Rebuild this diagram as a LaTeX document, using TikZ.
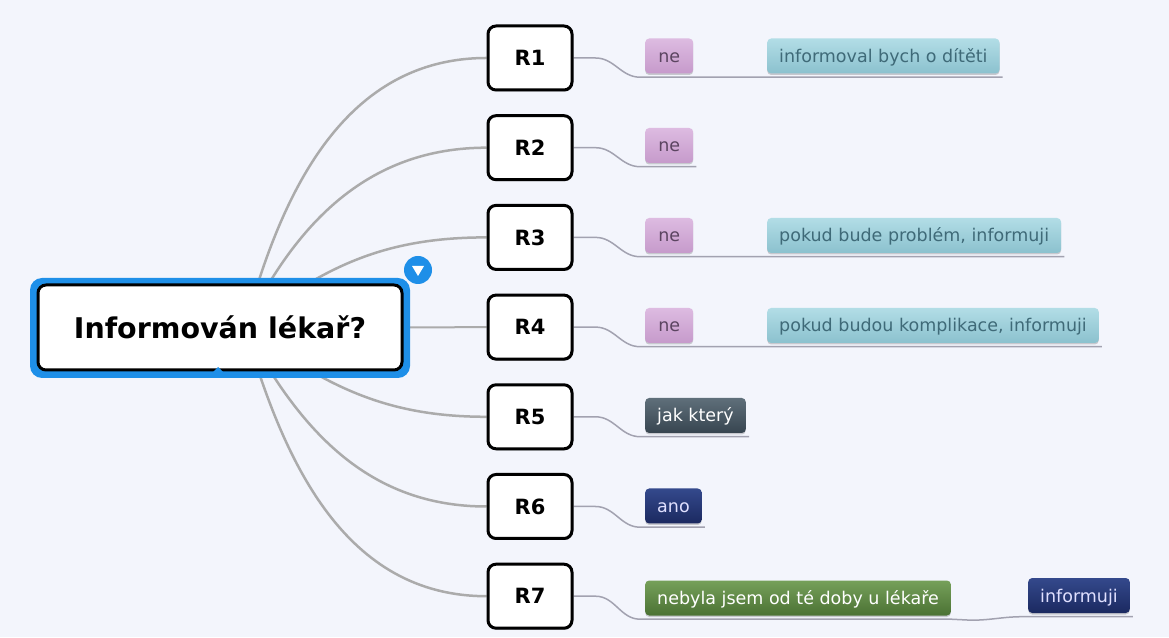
\documentclass[tikz,border=0pt]{standalone}
\usepackage{fontspec}
\setmainfont{DejaVu Sans}
\usetikzlibrary{shadows}
\definecolor{bgcol}{HTML}{F3F5FC}
\definecolor{edgecol}{HTML}{ABABAB}
\definecolor{linecol}{HTML}{A2A2B0}
\definecolor{rootblue}{HTML}{1E8FE8}
\definecolor{pinkA}{HTML}{DDBBE1}
\definecolor{pinkB}{HTML}{C69ACB}
\definecolor{pinkT}{HTML}{5B4460}
\definecolor{tealA}{HTML}{B2DDE6}
\definecolor{tealB}{HTML}{8BC1CE}
\definecolor{tealT}{HTML}{3F6A78}
\definecolor{slateA}{HTML}{5F6F7A}
\definecolor{slateB}{HTML}{374550}
\definecolor{navyA}{HTML}{34498C}
\definecolor{navyB}{HTML}{1B2960}
\definecolor{greenA}{HTML}{76A05A}
\definecolor{greenB}{HTML}{4B7234}
\pgfdeclarelayer{back}
\pgfdeclarelayer{links}
\pgfsetlayers{back,links,main}
\tikzset{
  rbox/.style={draw=black, line width=3pt, fill=white, rounded corners=8pt,
    minimum width=84pt, minimum height=64pt, inner sep=0pt,
    font=\fontsize{21}{21}\selectfont\bfseries,
    drop shadow={shadow xshift=1pt, shadow yshift=-1.5pt, opacity=0.35, fill=black}},
  tag/.style={rounded corners=4pt, minimum height=35pt, inner xsep=12pt, inner ysep=0pt,
    text height=14.5pt, text depth=1.5pt,
    anchor=west, font=\fontsize{17.5}{17.5}\selectfont,
    drop shadow={shadow xshift=0pt, shadow yshift=-1.5pt, opacity=0.18, fill=black}},
  pinktag/.style={tag, top color=pinkA, bottom color=pinkB, text=pinkT, minimum width=48pt},
  tealtag/.style={tag, top color=tealA, bottom color=tealB, text=tealT},
  slatetag/.style={tag, top color=slateA, bottom color=slateB, text=white},
  navytag/.style={tag, top color=navyA, bottom color=navyB, text=white!88!blue},
  greentag/.style={tag, top color=greenA, bottom color=greenB, text=white},
  mainedge/.style={draw=edgecol, line width=2.5pt},
  subedge/.style={draw=linecol, line width=1.5pt},
}
\begin{document}
\begin{tikzpicture}[x=1pt,y=1pt]
\useasboundingbox (0,0) rectangle (1169,637);
\begin{pgfonlayer}{back}
  \fill[bgcol] (0,0) rectangle (1169,637);
\end{pgfonlayer}

% central topic with its blue selection frame
\fill[rootblue, rounded corners=12pt] (30,259) rectangle (410,359);
\node[draw=black, line width=3pt, fill=white, rounded corners=8pt,
  minimum width=364pt, minimum height=85pt,
  font=\fontsize{28.5}{28.5}\selectfont\bfseries] (root) at (220,309.5) {Informován lékař?};
\fill[rootblue] (210,262) -- (226,262) -- (218,270) -- cycle;
\node[circle, fill=rootblue, minimum size=28pt, inner sep=0pt] (fold) at (418,367) {};
\fill[white] ([xshift=-6pt,yshift=4pt]fold.center) -- ([xshift=6pt,yshift=4pt]fold.center)
  -- ([yshift=-6pt]fold.center) -- cycle;

% respondents
\foreach \i in {1,...,7}
  \node[rbox] (r\i) at (530,{579-89.7*(\i-1)}) {R\i};

% answers
\node[pinktag] (n1) at (645,581) {ne};
\node[tealtag] (t1) at (767,581) {informoval bych o dítěti};
\node[pinktag] (n2) at (645,491.5) {ne};
\node[pinktag] (n3) at (645,401.5) {ne};
\node[tealtag] (t3) at (767,401.5) {pokud bude problém, informuji};
\node[pinktag] (n4) at (645,311.5) {ne};
\node[tealtag] (t4) at (767,311.5) {pokud budou komplikace, informuji};
\node[slatetag] (n5) at (645,221.5) {jak který};
\node[navytag] (n6) at (645,131) {ano};
\node[greentag] (n7) at (645,39) {nebyla jsem od té doby u lékaře};
\node[navytag] (t7) at (1028,41.5) {informuji};

\begin{pgfonlayer}{links}
  \coordinate (hub) at (245,309.5);
  \draw[mainedge] (hub) to[out=75,in=180] (r1.west);
  \draw[mainedge] (hub) to[out=64,in=180] (r2.west);
  \draw[mainedge] (hub) to[out=38,in=180] (r3.west);
  \draw[mainedge, line width=2pt] (root.east) -- (r4.west);
  \draw[mainedge] (hub) to[out=-36,in=180] (r5.west);
  \draw[mainedge] (hub) to[out=-62,in=180] (r6.west);
  \draw[mainedge] (hub) to[out=-74,in=180] (r7.west);

  \draw[subedge] (r1.east) -- ++(22,0) to[out=0,in=180] ([shift={(-5pt,-3.5pt)}]n1.south west)
    -- ([shift={(3pt,-3.5pt)}]t1.south east);
  \draw[subedge] (r2.east) -- ++(22,0) to[out=0,in=180] ([shift={(-5pt,-3.5pt)}]n2.south west)
    -- ([shift={(3pt,-3.5pt)}]n2.south east);
  \draw[subedge] (r3.east) -- ++(22,0) to[out=0,in=180] ([shift={(-5pt,-3.5pt)}]n3.south west)
    -- ([shift={(3pt,-3.5pt)}]t3.south east);
  \draw[subedge] (r4.east) -- ++(22,0) to[out=0,in=180] ([shift={(-5pt,-3.5pt)}]n4.south west)
    -- ([shift={(3pt,-3.5pt)}]t4.south east);
  \draw[subedge] (r5.east) -- ++(22,0) to[out=0,in=180] ([shift={(-5pt,-3.5pt)}]n5.south west)
    -- ([shift={(3pt,-3.5pt)}]n5.south east);
  \draw[subedge] (r6.east) -- ++(22,0) to[out=0,in=180] ([shift={(-5pt,-3.5pt)}]n6.south west)
    -- ([shift={(3pt,-3.5pt)}]n6.south east);
  \draw[subedge] (r7.east) -- ++(22,0) to[out=0,in=180] ([shift={(-5pt,-3.5pt)}]n7.south west)
    -- ([shift={(0pt,-3.5pt)}]n7.south east) -- ++(20,-1) to[out=0,in=180] ([shift={(-5pt,-3.5pt)}]t7.south west)
    -- ([shift={(3pt,-3.5pt)}]t7.south east);
\end{pgfonlayer}
\end{tikzpicture}
\end{document}
